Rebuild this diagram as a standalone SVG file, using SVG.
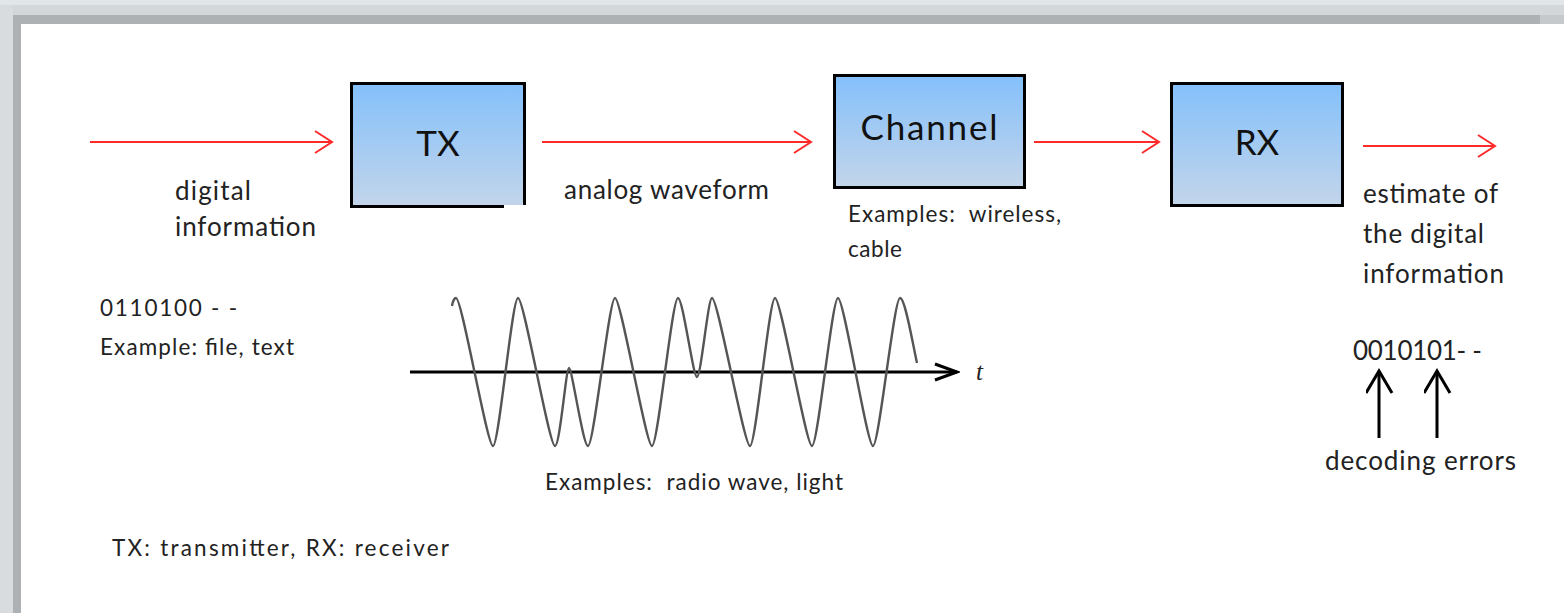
<svg xmlns="http://www.w3.org/2000/svg" width="1564" height="613" viewBox="0 0 1564 613">
<style>
.lbl{font-family:Lato,"Open Sans","Liberation Sans",sans-serif;fill:#222;}
.big{font-size:26px;}
.sm{font-size:22.5px;}
.box{stroke:#000;stroke-width:3;fill:url(#bg);}
.boxt{font-family:Lato,"Open Sans","Liberation Sans",sans-serif;fill:#111;text-anchor:middle;}
.red{stroke:#ff2a2a;stroke-width:2;fill:none;}
.blk{stroke:#000;stroke-width:3;fill:none;}
</style>
<defs>
<linearGradient id="bg" x1="0" y1="0" x2="0" y2="1">
<stop offset="0" stop-color="#84c0fb"/>
<stop offset="1" stop-color="#c3d5ea"/>
</linearGradient>
<marker id="ra" markerWidth="20" markerHeight="26" refX="18" refY="12" orient="auto" markerUnits="userSpaceOnUse">
<path d="M1,1 L18,12 L1,23" fill="none" stroke="#ff2a2a" stroke-width="2"/>
</marker>
<marker id="ka" markerWidth="28" markerHeight="30" refX="24" refY="13" orient="auto" markerUnits="userSpaceOnUse">
<path d="M2,0 L24,13 L2,26" fill="none" stroke="#000" stroke-width="3"/>
</marker>
<marker id="ta" markerWidth="26" markerHeight="20" refX="23" refY="10" orient="auto" markerUnits="userSpaceOnUse">
<path d="M1,2 L23,10 L1,18" fill="none" stroke="#000" stroke-width="3"/>
</marker>
</defs>
<rect x="0" y="0" width="1564" height="613" fill="#fff"/>
<g id="frame">
<rect x="0" y="0" width="1564" height="5" fill="#e1e6e9"/>
<rect x="0" y="5" width="1564" height="10" fill="#d3d7d9"/>
<rect x="13" y="15" width="1527" height="9" fill="#adb1b4"/>
<rect x="1540" y="15" width="24" height="9" fill="#c6c9cb"/>
<rect x="0" y="5" width="13" height="608" fill="#d8dcde"/>
<rect x="13" y="15" width="8" height="598" fill="#aeb1b4"/>
</g>
<g id="connectors">
<line class="red" x1="90" y1="142" x2="332" y2="142" marker-end="url(#ra)"/>
<line class="red" x1="542" y1="142" x2="811" y2="142" marker-end="url(#ra)"/>
<line class="red" x1="1034" y1="142" x2="1159" y2="142" marker-end="url(#ra)"/>
<line class="red" x1="1363" y1="146" x2="1495" y2="146" marker-end="url(#ra)"/>
<line class="blk" x1="1379" y1="438" x2="1379" y2="371" marker-end="url(#ka)"/>
<line class="blk" x1="1437" y1="438" x2="1437" y2="371" marker-end="url(#ka)"/>
</g>
<g id="tx">
<rect class="box" x="351.5" y="83.5" width="173" height="123"/>
<rect x="504" y="205" width="24" height="8" fill="#fff"/>
<text class="boxt" x="438" y="156" font-size="35">TX</text>
</g>
<g id="channel">
<rect class="box" x="834.5" y="75.5" width="190" height="112"/>
<text class="boxt" x="929" y="140" font-size="35" textLength="137" lengthAdjust="spacing">Channel</text>
</g>
<g id="rx">
<rect class="box" x="1171.5" y="83.5" width="171" height="122"/>
<text class="boxt" x="1257" y="155" font-size="35">RX</text>
</g>
<g id="labels">
<text class="lbl big" x="175" y="200" textLength="76" lengthAdjust="spacing">digital</text>
<text class="lbl big" x="175" y="236" textLength="141" lengthAdjust="spacing">information</text>
<text class="lbl big" x="564" y="199" textLength="205" lengthAdjust="spacing">analog waveform</text>
<text class="lbl sm" x="848" y="222" textLength="213" lengthAdjust="spacing" xml:space="preserve">Examples:  wireless,</text>
<text class="lbl sm" x="848" y="257" textLength="54" lengthAdjust="spacing">cable</text>
<text class="lbl big" x="1363" y="203" textLength="135" lengthAdjust="spacing">estimate of</text>
<text class="lbl big" x="1363" y="243" textLength="121" lengthAdjust="spacing">the digital</text>
<text class="lbl big" x="1363" y="283" textLength="141" lengthAdjust="spacing">information</text>
<text class="lbl sm" x="100" y="316" textLength="137" lengthAdjust="spacing">0110100 - -</text>
<text class="lbl sm" x="100" y="355" textLength="194" lengthAdjust="spacing">Example: file, text</text>
<text class="lbl" x="1353" y="360" font-size="26" textLength="129" lengthAdjust="spacing">0010101- -</text>
<text class="lbl big" x="1325" y="470" textLength="191" lengthAdjust="spacing">decoding errors</text>
<text class="lbl sm" x="545" y="490" textLength="298" lengthAdjust="spacing" xml:space="preserve">Examples:  radio wave, light</text>
<text class="lbl sm" x="112" y="556" textLength="337" lengthAdjust="spacing">TX: transmitter, RX: receiver</text>
</g>
<g id="waveform">
<line class="blk" x1="410" y1="372" x2="957" y2="372" stroke-width="3" marker-end="url(#ta)"/>
<path fill="none" stroke="#555" stroke-width="2.4" d="M452,306 C453,300 455,298 456,298 C462,298 487,446 493,446 C499,446 512,298 518,298 C524,298 549,446 555,446 C560,446 566,368 569,368 C572,368 583,446 588,446 C594,446 609,298 615,298 C621,298 646,446 652,446 C658,446 672,298 678,298 C683,298 693,377 697,377 C701,377 708,298 712,298 C718,298 744,446 750,446 C756,446 769,298 775,298 C781,298 806,446 812,446 C818,446 832,298 838,298 C844,298 867,446 873,446 C879,446 894,298 900,298 C905,298 912,340 917,363"/>
<text x="976" y="380" font-family="'Liberation Serif',serif" font-style="italic" font-size="25" fill="#222">t</text>
</g>
</svg>
